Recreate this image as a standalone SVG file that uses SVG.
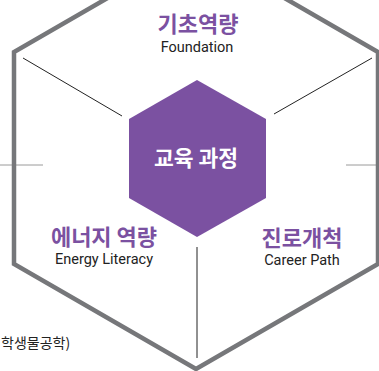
<svg xmlns="http://www.w3.org/2000/svg" width="379" height="371" viewBox="0 0 379 371">
<style>
.ko{font-family:"Noto Sans CJK KR","Noto Sans",sans-serif;font-weight:700;text-anchor:middle}
.h{fill:#7b51a1;font-size:22px}
.en{font-family:Roboto,"Liberation Sans",sans-serif;font-size:14.5px;fill:#222;text-anchor:middle}
.thin{stroke:#222;stroke-width:1;fill:none}
.gray{stroke:#9a9a9a;stroke-width:1;fill:none}
</style>
<rect width="379" height="371" fill="#fff"/>
<g id="connectors">
<line class="gray" x1="0" y1="165" x2="43" y2="165"/>
<line class="gray" x1="346" y1="165" x2="379" y2="165"/>
<line class="thin" x1="23" y1="58" x2="122" y2="116"/>
<line class="thin" x1="274" y1="114" x2="372" y2="58"/>
<line class="thin" x1="197" y1="247" x2="197" y2="358"/>
</g>
<g id="outer-hexagon">
<polygon points="196,-53 378,52 378,264 196,369 14,264 14,52" fill="none" stroke="#76777a" stroke-width="4.5" stroke-linejoin="miter"/>
</g>
<g id="center">
<polygon points="197,80 266,119 266,198 197,237 129,198 129,119" fill="#7b51a1"/>
<text class="ko" x="196" y="166" font-size="21.5" fill="#fff">교육 과정</text>
</g>
<g id="foundation">
<text class="ko h" x="198" y="32">기초역량</text>
<text class="en" x="197" y="52">Foundation</text>
</g>
<g id="energy">
<text class="ko h" x="104" y="245">에너지 역량</text>
<text class="en" x="104" y="264">Energy Literacy</text>
</g>
<g id="career">
<text class="ko h" x="302" y="246">진로개척</text>
<text class="en" x="302" y="265">Career Path</text>
</g>
<text x="1" y="348" font-family="'Noto Sans CJK KR',sans-serif" font-size="14" fill="#222">학생물공학)</text>
</svg>
